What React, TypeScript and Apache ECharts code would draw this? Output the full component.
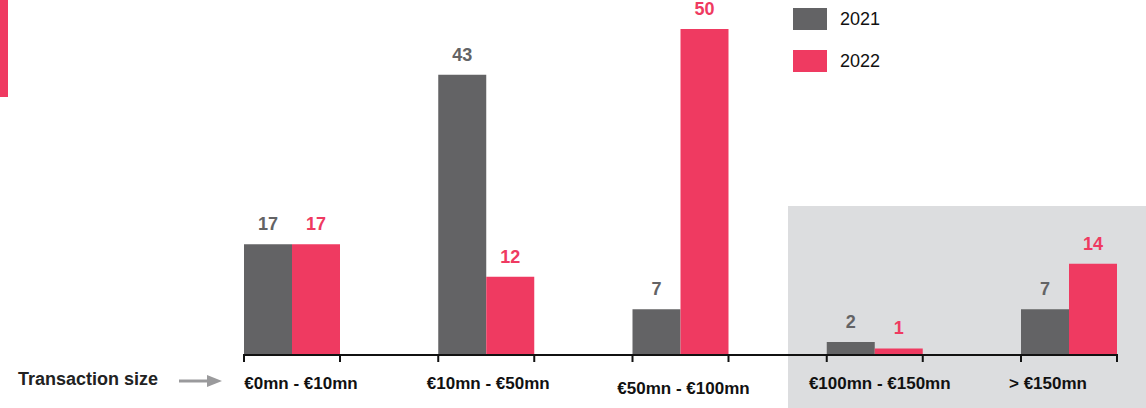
import React, { useEffect, useRef } from "react";
import * as echarts from "echarts";

const categories = ["€0mn - €10mn", "€10mn - €50mn", "€50mn - €100mn", "€100mn - €150mn", "> €150mn"];
const values2021 = [17, 43, 7, 2, 7];
const values2022 = [17, 12, 50, 1, 14];
const seriesNames = ["2021", "2022"];
const axisTitle = "Transaction size";

const GREY = "#636365";
const RED = "#EF3A61";
const FONT = "'Liberation Sans', Arial, Helvetica, sans-serif";
const BAR_W = 48;
const labelPaddings = [
  [0, 0, 0, 18],
  [0, 0, 0, 4],
  [5, 0, 0, 6],
  [0, 0, 0, 10],
  [0, 42, 0, 0],
];

export default function App() {
  const ref = useRef<HTMLDivElement>(null);
  useEffect(() => {
    if (!ref.current) return;
    const chart = echarts.init(ref.current, undefined, { renderer: "svg" });
    const labelStyle = (color: string) => ({
      show: true,
      position: "top" as const,
      distance: 11,
      color,
      fontSize: 18,
      fontWeight: "bold" as const,
      fontFamily: FONT,
    });
    chart.setOption({
      animation: false,
      textStyle: { fontFamily: FONT },
      graphic: [
        { type: "rect", z: -10, shape: { x: 788, y: 206, width: 358, height: 202 }, style: { fill: "#DCDDDF" } },
        { type: "rect", z: -10, shape: { x: 0, y: 0, width: 8, height: 97 }, style: { fill: RED } },
        {
          type: "text",
          x: 18,
          y: 379,
          style: { text: axisTitle, font: `bold 18px ${FONT}`, fill: "#222", verticalAlign: "middle" },
        },
        { type: "line", shape: { x1: 179, y1: 381, x2: 209, y2: 381 }, style: { stroke: "#9A9A9C", lineWidth: 3 } },
        { type: "polygon", shape: { points: [[207, 375], [222, 381], [207, 387]] }, style: { fill: "#9A9A9C" } },
      ],
      legend: {
        orient: "vertical",
        left: 793,
        top: 8,
        padding: 0,
        itemWidth: 34,
        itemHeight: 22,
        itemGap: 20,
        icon: "rect",
        data: seriesNames,
        textStyle: { fontSize: 18, color: "#111", fontFamily: FONT, padding: [0, 0, 0, 8] },
      },
      grid: { left: 292, right: 77, top: 29, bottom: 53 },
      xAxis: {
        type: "category",
        data: categories.map((c, i) => ({ value: c, textStyle: { padding: labelPaddings[i] } })),
        boundaryGap: false,
        axisLine: { show: false },
        axisTick: { show: false },
        axisLabel: {
          color: "#111",
          fontSize: 17,
          fontWeight: "bold",
          fontFamily: FONT,
          margin: 20,
          interval: 0,
        },
      },
      yAxis: { type: "value", min: 0, max: 50, show: false, splitLine: { show: false } },
      series: [
        {
          name: seriesNames[0],
          type: "bar",
          data: values2021,
          barWidth: BAR_W,
          barGap: "0%",
          itemStyle: { color: GREY },
          label: labelStyle(GREY),
        },
        {
          name: seriesNames[1],
          type: "bar",
          data: values2022,
          barWidth: BAR_W,
          barGap: "0%",
          itemStyle: { color: RED },
          label: labelStyle(RED),
        },
        {
          type: "custom",
          silent: true,
          z: 10,
          clip: false,
          data: categories.map((_, i) => [i, 0]),
          renderItem: (params: any, api: any) => {
            const c = api.coord([api.value(0), 0]);
            const children: any[] = [];
            const stroke = { stroke: "#111", lineWidth: 2 };
            children.push({ type: "line", shape: { x1: c[0] - BAR_W, y1: c[1], x2: c[0] - BAR_W, y2: c[1] + 7 }, style: stroke });
            children.push({ type: "line", shape: { x1: c[0] + BAR_W, y1: c[1], x2: c[0] + BAR_W, y2: c[1] + 7 }, style: stroke });
            if (params.dataIndex === 0) {
              const last = api.coord([categories.length - 1, 0]);
              children.push({ type: "line", shape: { x1: c[0] - BAR_W - 1, y1: c[1], x2: last[0] + BAR_W + 1, y2: c[1] }, style: stroke });
            }
            return { type: "group", children };
          },
        },
      ],
    });
    return () => chart.dispose();
  }, []);
  return <div ref={ref} style={{ position: "absolute", left: 0, top: 0, width: 1146, height: 408 }} />;
}
